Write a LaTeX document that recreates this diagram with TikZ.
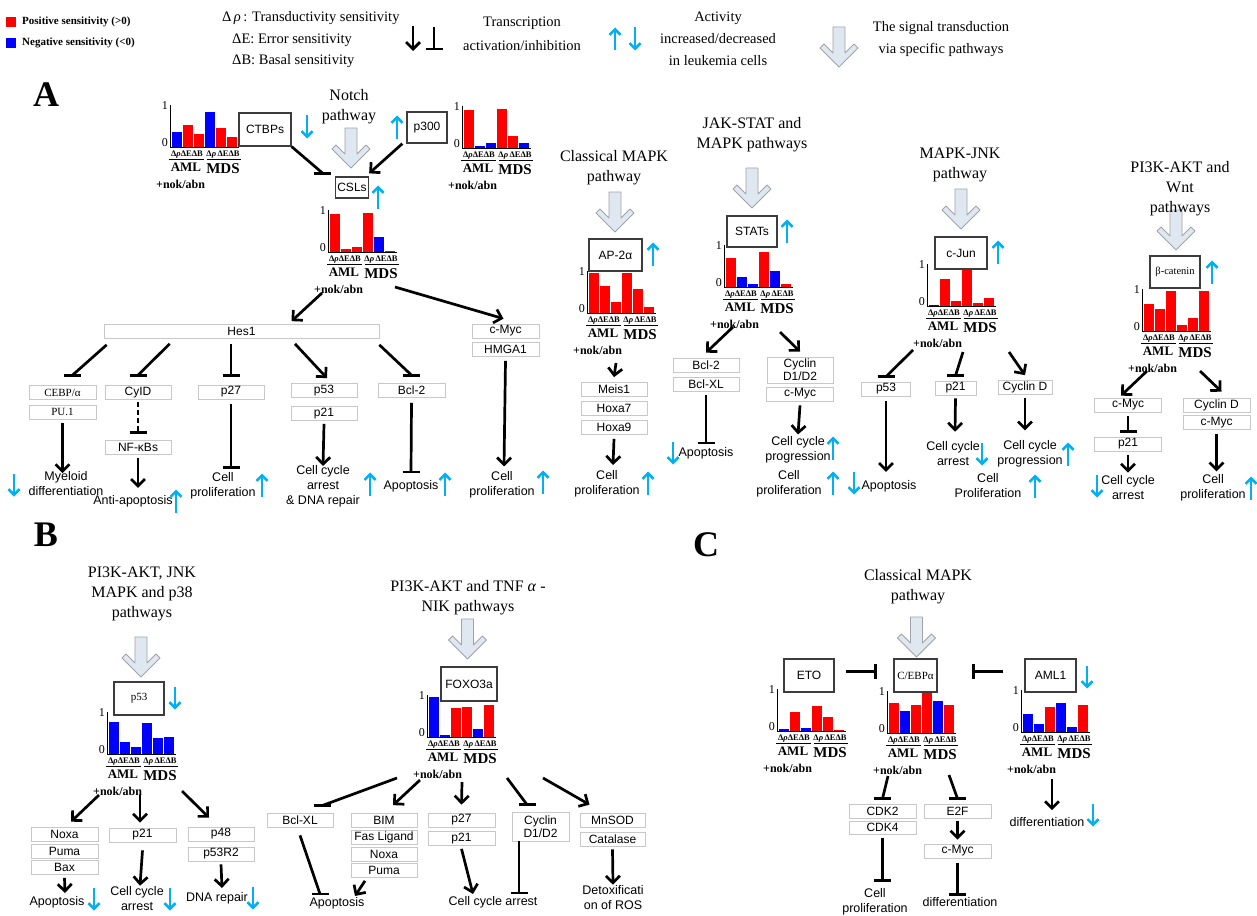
\documentclass[tikz,border=0pt]{standalone}
\usepackage{fontspec}
\setmainfont{Liberation Serif}
\setsansfont{Liberation Sans}
\usetikzlibrary{arrows.meta,calc}

\definecolor{rd}{HTML}{FF0000}
\definecolor{bl}{HTML}{0000FF}
\definecolor{upcol}{HTML}{00B0F0}
\definecolor{boxline}{HTML}{C8C8C8}
\definecolor{keyline}{HTML}{3C3C3C}
\definecolor{sigfill}{HTML}{DFE7F1}
\definecolor{sigline}{HTML}{A0A4AA}

\newcommand{\genefont}{\sffamily\fontsize{12}{13}\selectfont}
\newcommand{\outfont}{\sffamily\fontsize{12.5}{15}\selectfont}
\newcommand{\titlefont}{\rmfamily\fontsize{16}{20}\selectfont}

% sensitivity bar chart: name, axis x, baseline y, value/colour list
\newcommand{\sensbar}[4]{%
  \foreach \hv/\col [count=\i] in {#4}
    \fill[\col] (#2+11*\i-9,#3) rectangle ++(10,-40*\hv);
  \draw[axis] (#2,#3-42) -- (#2,#3) -- (#2+69,#3);
  \node[num, anchor=east] (#1one) at (#2-2,#3-41) {1};
  \node[num, anchor=east] (#1zero) at (#2-2,#3-4) {0};
  \node[dlab] (#1da) at (#2+17,#3+8) {Δ\textit{ρ}ΔEΔB};
  \node[dlab] (#1db) at (#2+53,#3+8) {Δ\textit{ρ}\,ΔEΔB};
  \draw[axis] (#2-1,#3+12.5) -- (#2+34,#3+12.5);
  \draw[axis] (#2+37,#3+12.5) -- (#2+71,#3+12.5);
  \node[aml] (#1aml) at (#2+16,#3+20) {AML};
  \node[mds] (#1mds) at (#2+53,#3+22) {MDS};
  \node[nok, anchor=west] (#1nok) at (#2-14,#3+37) {+nok/abn};
  \coordinate (#1) at (#2+34,#3+37);
}

\begin{document}
\begin{tikzpicture}[x=1pt,y=-1pt,
    every node/.style={inner sep=0pt},
    gbox/.style={draw=boxline, line width=0.7pt, fill=white, font=\genefont,
        minimum width=66pt, minimum height=14pt},
    kbox/.style={draw=keyline, line width=1.3pt, fill=white, font=\genefont,
        minimum width=50pt, minimum height=32pt},
    serifbox/.style={font=\rmfamily\fontsize{11}{12}\selectfont},
    outcome/.style={font=\outfont, align=center},
    title/.style={font=\titlefont, align=center},
    letter/.style={font=\rmfamily\bfseries\fontsize{36}{36}\selectfont},
    legb/.style={font=\rmfamily\bfseries\fontsize{11}{12}\selectfont, anchor=west},
    legt/.style={font=\rmfamily\fontsize{14.5}{22}\selectfont, align=center},
    num/.style={font=\rmfamily\fontsize{12}{12}\selectfont},
    dlab/.style={font=\rmfamily\bfseries\fontsize{8.5}{9}\selectfont},
    aml/.style={font=\rmfamily\bfseries\fontsize{13}{13}\selectfont},
    mds/.style={font=\rmfamily\bfseries\fontsize{15}{15}\selectfont},
    nok/.style={font=\rmfamily\bfseries\fontsize{12}{12}\selectfont},
    axis/.style={line width=1pt},
    act/.style={line width=2.7pt, -{Straight Barb[length=7pt,width=14pt]}},
    inh/.style={line width=2.7pt},
    cyanarr/.style={draw=upcol, line width=2.6pt, -{Straight Barb[length=5.5pt,width=11pt]}},
    uparr/.pic={\draw[cyanarr] (0,11.5) -- (0,-11.5);},
    dnarr/.pic={\draw[cyanarr] (0,-11.5) -- (0,11.5);},
    tbar/.pic={\draw[line width=2.7pt, solid] (-8.5,0) -- (8.5,0);},
    vbar/.pic={\draw[line width=2.7pt, solid] (0,-7.5) -- (0,7.5);},
    sig/.pic={\draw[draw=sigline, fill=sigfill, line width=0.8pt, line join=round]
        (-6,0) -- (6,0) -- (6,26) -- (15,17) -- (19,21) -- (0,40)
        -- (-19,21) -- (-15,17) -- (-6,26) -- cycle;}
]
\fill[white] (0,0) rectangle (1257,915);
\useasboundingbox (0,0) rectangle (1257,915);

% Legend
\node[fill=rd, minimum size=10pt] (possq) at (11,22) {};
\node[legb] (posl) at (22,22) {Positive sensitivity (>0)};
\node[fill=bl, minimum size=10pt] (negsq) at (11,43) {};
\node[legb] (negl) at (22,43) {Negative sensitivity (<0)};
\node[legt, anchor=west] (rhol) at (222,18) {Δ\,\textit{ρ}\,: Transductivity sensitivity};
\node[legt, anchor=west] (errl) at (232,40) {ΔE: Error sensitivity};
\node[legt, anchor=west] (basl) at (232,61) {ΔB: Basal sensitivity};
\coordinate (acttop) at (413,26);
\coordinate (actbot) at (413,51);
\draw[act] (acttop) -- (actbot);
\coordinate (inhtop) at (434,27);
\coordinate (inhbot) at (434,49);
\draw[inh] (inhtop) -- (inhbot) pic {tbar};
\node[legt, font=\rmfamily\fontsize{14.5}{24}\selectfont] (transl) at (522,34) {Transcription\\activation/inhibition};
\pic at (615,39) {uparr};
\pic at (635,39) {dnarr};
\node[legt] (actl) at (718,39) {Activity\\increased/decreased\\in leukemia cells};
\pic at (839,27) {sig};
\node[legt] (sigl) at (941,39) {The signal transduction\\via specific pathways};

% Panel A: Notch pathway
\node[letter] (lA) at (46,95) {A};
\pic at (351,128) {sig};
\node[title] (notcht) at (349,107) {Notch\\pathway};
\node[kbox, minimum width=52pt, minimum height=33pt] (ctbp) at (265,129.5) {CTBPs};
\pic at (307,127) {dnarr};
\sensbar{ctbpc}{170}{147}{0.38/bl,0.56/rd,0.33/rd,0.88/bl,0.48/rd,0.25/rd}
\node[kbox, minimum width=40pt, minimum height=31pt] (p300) at (427,127.5) {p300};
\pic at (397,127) {uparr};
\sensbar{p300c}{462}{148}{0.95/rd,0.04/bl,0.12/bl,0.97/rd,0.3/rd,0.12/bl}
\node[kbox, minimum width=33pt, minimum height=21pt] (csl) at (352,187.5) {CSLs};
\pic at (378,197) {uparr};
\sensbar{cslc}{328}{252}{0.95/rd,0.07/rd,0.13/rd,0.97/rd,0.38/bl,0.03/rd}
\draw[inh] (ctbp.south east) -- ([xshift=-12pt,yshift=3pt]csl.north west) pic {tbar};
\draw[act] ([xshift=-4pt]p300.south west) -- ([yshift=3pt]csl.north east);

\node[gbox, minimum width=275pt] (hes) at (241.5,331.5) {Hes1};
\node[gbox, minimum width=67pt] (cmycA) at (505.5,331) {c-Myc};
\node[gbox, minimum width=67pt] (hmgaA) at (505.5,349.5) {HMGA1};
\draw[act] ($(cslc)+(-40,4)$) -- ([xshift=50pt,yshift=3pt]hes.north);
\draw[act] ($(cslc)+(33,-2)$) -- ([xshift=-2pt,yshift=5pt]cmycA.north);

\node[gbox, minimum width=67pt, serifbox] (cebp) at (62.5,392.5) {CEBP/α};
\node[gbox, minimum width=67pt, serifbox] (pu1) at (62.5,412) {PU.1};
\node[gbox] (cyld) at (138,392.5) {CyID};
\node[gbox] (nfkb) at (138,447.5) {NF-κBs};
\node[gbox] (p27A) at (231,392) {p27};
\node[gbox] (p53A) at (324,390.5) {p53};
\node[gbox] (p21A) at (324,413.5) {p21};
\node[gbox, minimum width=67pt] (bcl2A) at (411.5,390.5) {Bcl-2};
\draw[inh] ([xshift=3pt,yshift=-6pt]hes.south west) -- ([xshift=10pt,yshift=10pt]cebp.north) pic {tbar};
\draw[inh] ([xshift=66pt,yshift=-5pt]hes.south west) -- ([yshift=10pt]cyld.north) pic {tbar};
\draw[inh] ([xshift=-10.5pt,yshift=-5pt]hes.south) -- ([yshift=9pt]p27A.north) pic {tbar};
\draw[act] ([xshift=53.5pt,yshift=-5pt]hes.south) -- ([xshift=3pt,yshift=5pt]p53A.north);
\draw[inh] ([yshift=-6pt]hes.south east) -- ([yshift=8pt]bcl2A.north) pic {tbar};

\node[outcome] (myel) at (66,483.5) {Myeloid\\differentiation};
\node[outcome] (anti) at (133,501) {Anti-apoptosis};
\node[outcome] (prolA) at (223,486) {Cell\\proliferation};
\node[outcome] (ccaA) at (323,486) {Cell cycle\\arrest\\\& DNA repair};
\node[outcome] (apopA) at (411,486) {Apoptosis};
\node[outcome] (prolA2) at (502,485) {Cell\\proliferation};
\draw[act] ([yshift=-4pt]pu1.south) -- ([xshift=-3.5pt,yshift=-2pt]myel.north);
\draw[inh, dash pattern=on 5pt off 3pt] ([yshift=-2pt]cyld.south) -- ([yshift=8pt]nfkb.north) pic {tbar};
\draw[act] ([yshift=-3pt]nfkb.south) -- ([xshift=5pt,yshift=7pt]anti.north);
\draw[inh] ([yshift=-5pt]p27A.south) -- ([xshift=8pt,yshift=5pt]prolA.north) pic {tbar};
\draw[act] ([yshift=-3pt]p21A.south) -- ([yshift=-1pt]ccaA.north);
\draw[inh] ([yshift=-5pt]bcl2A.south) -- ([yshift=8pt]apopA.north) pic {tbar};
\draw[act] ([yshift=-4pt]hmgaA.south) -- ([xshift=2pt,yshift=5pt]prolA2.north);
\pic at (14,485) {dnarr};
\pic at (176,501) {uparr};
\pic at (262,485) {uparr};
\pic at (370,484) {uparr};
\pic at (445,484) {uparr};
\pic at (543,482) {uparr};

% Panel A: classical MAPK
\node[title] (mapkt) at (614,168) {Classical MAPK\\pathway};
\pic at (615,192) {sig};
\node[kbox, minimum width=53pt] (ap2) at (615.5,255) {AP-2α};
\pic at (653,254) {uparr};
\sensbar{ap2c}{587}{313}{1.0/rd,0.68/rd,0.27/rd,1.0/rd,0.6/rd,0.15/rd}
\node[gbox] (meis) at (614,389.5) {Meis1};
\node[gbox] (hoxa7) at (614,408.5) {Hoxa7};
\node[gbox] (hoxa9) at (614,427.5) {Hoxa9};
\draw[act] ($(ap2c)+(-5,13)$) -- ([yshift=5pt]meis.north);
\node[outcome] (prolC) at (607,483.5) {Cell\\proliferation};
\draw[act] ([yshift=-4pt]hoxa9.south) -- ([xshift=6pt,yshift=5pt]prolC.north);
\pic at (648,483) {uparr};

% Panel A: JAK-STAT
\node[title] (jakt) at (752,134.5) {JAK-STAT and\\MAPK pathways};
\pic at (752,168) {sig};
\node[kbox, minimum width=50pt, minimum height=31pt] (stat) at (752,231.5) {STATs};
\pic at (787,231) {uparr};
\sensbar{statc}{724}{287}{0.72/rd,0.25/bl,0.08/bl,0.87/rd,0.4/bl,0.07/rd}
\node[gbox] (bcl2B) at (706,365) {Bcl-2};
\node[gbox] (bclxlB) at (706,384) {Bcl-XL};
\draw[act] ($(statc)+(-25,3)$) -- ([yshift=5pt]bcl2B.north);
\node[outcome] (apopB) at (706,453) {Apoptosis};
\draw[inh] ([yshift=-4pt]bclxlB.south) -- ([yshift=4pt]apopB.north) pic {tbar};
\pic at (673,453) {dnarr};
\node[gbox, minimum height=26pt, align=center] (cyclB) at (800,370) {Cyclin\\D1/D2};
\node[gbox, minimum width=67pt] (cmycB) at (800,394) {c-Myc};
\draw[act] ($(statc)+(22,8)$) -- ([yshift=5pt]cyclB.north);
\node[outcome] (ccpB) at (798,450) {Cell cycle\\progression};
\draw[act] ([yshift=-4pt]cmycB.south) -- ([yshift=2pt]ccpB.north);
\pic at (833,448) {uparr};
\node[outcome] (prolB) at (789,483.5) {Cell\\proliferation};
\pic at (833,483) {uparr};

% Panel A: MAPK-JNK
\node[title] (jnkt) at (960,165) {MAPK-JNK\\pathway};
\pic at (961,189) {sig};
\node[kbox, minimum width=52pt] (cjun) at (961,253) {c-Jun};
\pic at (998,252) {uparr};
\sensbar{cjunc}{927}{306}{0.03/bl,0.68/rd,0.13/rd,0.9/rd,0.08/rd,0.2/rd}
\node[gbox, minimum width=49pt] (p53B) at (886,389) {p53};
\node[gbox, minimum width=41pt] (p21C) at (955.5,388) {p21};
\node[gbox, minimum width=54pt] (cycC) at (1025,387.5) {Cyclin D};
\draw[inh] ($(cjunc)+(-48,7)$) -- ([yshift=5pt]p53B.north) pic {tbar};
\draw[inh] ($(cjunc)+(2,9)$) -- ([yshift=5pt]p21C.north) pic {tbar};
\draw[act] ($(cjunc)+(48,9)$) -- ([yshift=5pt]cycC.north);
\node[outcome] (apopC) at (889,486) {Apoptosis};
\draw[act] ([yshift=-5pt]p53B.south) -- ([xshift=-3pt,yshift=8pt]apopC.north);
\pic at (854,483) {dnarr};
\node[outcome] (ccaC) at (953,454) {Cell cycle\\arrest};
\draw[act] ([yshift=-3pt]p21C.south) -- ([xshift=2pt,yshift=10pt]ccaC.north);
\pic at (982,454) {dnarr};
\node[outcome] (ccpC) at (1030,454) {Cell cycle\\progression};
\draw[act] ([yshift=-3pt]cycC.south) -- ([xshift=-5pt,yshift=10pt]ccpC.north);
\pic at (1068,454) {uparr};
\node[outcome] (prolC2) at (988,486) {Cell\\Proliferation};
\pic at (1035,486) {uparr};

% Panel A: PI3K-AKT and Wnt
\pic at (1176,210) {sig};
\node[title] (wntt) at (1180,189) {PI3K-AKT and\\Wnt\\pathways};
\node[kbox, minimum width=50pt, serifbox, font=\rmfamily\fontsize{10.5}{12}\selectfont] (bcat) at (1175,272) {β-catenin};
\pic at (1212,272) {uparr};
\sensbar{bcatc}{1142}{331}{0.68/rd,0.55/rd,1.0/rd,0.15/rd,0.33/rd,1.0/rd}
\node[gbox, minimum width=67pt] (cmycD) at (1128,405) {c-Myc};
\node[gbox, minimum width=67pt] (p21D) at (1128,444) {p21};
\node[gbox, minimum width=67pt] (cycD) at (1216.5,405) {Cyclin D};
\node[gbox, minimum width=67pt] (cmycE) at (1216.5,422.5) {c-Myc};
\draw[act] ($(bcatc)+(-29,3)$) -- ([xshift=-7pt,yshift=2pt]cmycD.north);
\draw[inh] ([yshift=-4pt]cmycD.south) -- ([yshift=5pt]p21D.north) pic {tbar};
\draw[act] ($(bcatc)+(24,3)$) -- ([xshift=5pt,yshift=6pt]cycD.north);
\node[outcome] (ccaD) at (1128,488) {Cell cycle\\arrest};
\draw[act] ([yshift=-4pt]p21D.south) -- ([yshift=3pt]ccaD.north);
\pic at (1097,486) {dnarr};
\node[outcome] (prolD) at (1213,488) {Cell\\proliferation};
\draw[act] ([yshift=-4pt]cmycE.south) -- ([xshift=3.5pt,yshift=3pt]prolD.north);
\pic at (1251,488) {uparr};

% Panel B: p53
\node[letter] (lB) at (46,535) {B};
\pic at (141,637) {sig};
\node[title] (p38t) at (142,594) {PI3K-AKT, JNK\\MAPK and p38\\pathways};
\node[kbox, minimum height=33pt, serifbox] (p53C) at (139,698.5) {p53};
\pic at (175,698) {dnarr};
\sensbar{p53c}{107}{754}{0.8/bl,0.3/bl,0.17/bl,0.78/bl,0.4/bl,0.43/bl}
\node[gbox, minimum width=67pt] (noxaA) at (64.5,834) {Noxa};
\node[gbox, minimum width=67pt] (pumaA) at (64.5,851) {Puma};
\node[gbox, minimum width=67pt] (baxA) at (64.5,867.5) {Bax};
\node[gbox, minimum width=67pt] (p21E) at (142.5,835) {p21};
\node[gbox] (p48) at (221,834) {p48};
\node[gbox] (p53r2) at (221,854) {p53R2};
\draw[act] ($(p53c)+(-42,4)$) -- ([xshift=6.5pt,yshift=5pt]noxaA.north);
\draw[act] ($(p53c)+(-1,4)$) -- ([xshift=-2.5pt,yshift=5pt]p21E.north);
\draw[act] ($(p53c)+(41,0)$) -- ([xshift=-12pt,yshift=9pt]p48.north);
\node[outcome] (apopD) at (57,902) {Apoptosis};
\draw[act] ([yshift=-3pt]baxA.south) -- ([xshift=8pt,yshift=3pt]apopD.north);
\pic at (94,899) {dnarr};
\node[outcome] (ccaE) at (137,899) {Cell cycle\\arrest};
\draw[act] ([yshift=-8pt]p21E.south) -- ([xshift=3pt,yshift=1pt]ccaE.north);
\pic at (170,899) {dnarr};
\node[outcome] (dnaA) at (217,898) {DNA repair};
\draw[act] ([yshift=-3pt]p53r2.south) -- ([xshift=5pt,yshift=4pt]dnaA.north);
\pic at (253,898) {dnarr};

% Panel B: FOXO3a
\pic at (467.5,619) {sig};
\node[title] (tnft) at (468,598) {PI3K-AKT and TNF \textit{α} -\\NIK pathways};
\node[kbox, minimum width=56pt, minimum height=34pt] (foxo) at (469,684) {FOXO3a};
\sensbar{foxoc}{427}{737}{1.0/bl,0.04/bl,0.72/rd,0.75/rd,0.2/bl,0.8/rd}
\node[gbox] (bclxlC) at (300,820) {Bcl-XL};
\node[gbox] (bim) at (384,820.5) {BIM};
\node[gbox] (fas) at (384,837.5) {Fas Ligand};
\node[gbox] (noxaB) at (384,854) {Noxa};
\node[gbox] (pumaB) at (384,870.5) {Puma};
\node[gbox, minimum width=67pt] (p27B) at (461.5,820) {p27};
\node[gbox, minimum width=67pt] (p21F) at (461.5,838.5) {p21};
\node[gbox, minimum width=57pt, minimum height=29pt, align=center] (cyclF) at (540.5,826.5) {Cyclin\\D1/D2};
\node[gbox, minimum width=65pt] (mnsod) at (612.5,820) {MnSOD};
\node[gbox, minimum width=65pt] (catal) at (612.5,839) {Catalase};
\draw[inh] ($(foxoc)+(-64,4)$) -- ([xshift=22pt,yshift=7pt]bclxlC.north) pic {tbar};
\draw[act] ($(foxoc)+(-41,6)$) -- ([xshift=9pt,yshift=8pt]bim.north);
\draw[act] ($(foxoc)+(1,8)$) -- ([yshift=8pt]p27B.north);
\draw[inh] ($(foxoc)+(46,4)$) -- ([xshift=-13.5pt,yshift=7pt]cyclF.north) pic {tbar};
\draw[act] ($(foxoc)+(82,4)$) -- ([xshift=-23pt,yshift=8pt]mnsod.north);
\node[outcome] (apopE) at (337,903) {Apoptosis};
\draw[inh] ([yshift=-8pt]bclxlC.south) -- ([xshift=-17pt,yshift=3pt]apopE.north) pic {tbar};
\draw[act] ([xshift=-19pt,yshift=-3pt]pumaB.south) -- ([xshift=18pt,yshift=1pt]apopE.north);
\node[outcome] (ccaF) at (493,902) {Cell cycle arrest};
\draw[act] ([yshift=-3pt]p21F.south) -- ([xshift=-20pt,yshift=2pt]ccaF.north);
\draw[inh] ([xshift=-21.5pt]cyclF.south) -- ([xshift=26pt,yshift=3pt]ccaF.north) pic {tbar};
\node[outcome] (detox) at (613,898) {Detoxificati\\on of ROS};
\draw[act] ([yshift=-3pt]catal.south) -- ([yshift=1pt]detox.north);

% Panel C: C/EBPa
\node[letter] (lC) at (706,545) {C};
\pic at (916.5,617) {sig};
\node[title] (mapkt2) at (918,587) {Classical MAPK\\pathway};
\node[kbox, minimum width=43pt, minimum height=33pt, serifbox] (cebpa) at (915.5,675.5) {C/EBPα};
\node[kbox, minimum width=50pt, minimum height=33pt] (eto) at (809,675.5) {ETO};
\node[kbox, minimum width=51pt, minimum height=33pt] (aml1) at (1050.5,675.5) {AML1};
\pic at (1087,677) {dnarr};
\draw[inh] ([xshift=11pt,yshift=4pt]eto.east) -- ([xshift=-18pt,yshift=4pt]cebpa.west) pic {vbar};
\draw[inh] ([xshift=-21pt,yshift=4pt]aml1.west) -- ([xshift=36pt,yshift=4pt]cebpa.east) pic {vbar};
\sensbar{etoc}{777}{731}{0.04/bl,0.47/rd,0.08/bl,0.62/rd,0.36/rd,0.03/rd}
\sensbar{cebpac}{887}{733}{0.74/rd,0.55/bl,0.7/rd,1.0/rd,0.8/bl,0.7/rd}
\sensbar{aml1c}{1021}{732}{0.45/bl,0.2/bl,0.63/rd,0.72/bl,0.12/bl,0.68/rd}
\node[gbox, minimum width=67pt] (cdk2) at (882.5,811) {CDK2};
\node[gbox, minimum width=67pt, minimum height=13pt] (cdk4) at (882.5,827.5) {CDK4};
\node[gbox, minimum width=67pt] (e2f) at (957.5,811) {E2F};
\node[gbox, minimum width=67pt] (cmycF) at (957.5,851) {c-Myc};
\draw[inh] ($(cebpac)+(-33,6)$) -- ([yshift=5pt]cdk2.north) pic {tbar};
\draw[inh] ($(cebpac)+(28,5)$) -- ([yshift=5pt]e2f.north) pic {tbar};
\node[outcome] (prolE) at (875,902) {Cell\\proliferation};
\draw[inh] ([yshift=-4pt]cdk4.south) -- ([xshift=7.5pt,yshift=8pt]prolE.north) pic {tbar};
\draw[act] ([yshift=-3pt]e2f.south) -- ([yshift=4pt]cmycF.north);
\node[outcome] (diffA) at (960,902) {differentiation};
\draw[inh] ([yshift=-5pt]cmycF.south) -- ([xshift=-2.5pt,yshift=3pt]diffA.north) pic {tbar};
\node[outcome] (diffB) at (1047,822) {differentiation};
\draw[act] ($(aml1c)+(-3,10)$) -- ([xshift=5pt,yshift=7pt]diffB.north);
\pic at (1093,815) {dnarr};
\end{tikzpicture}
\end{document}
